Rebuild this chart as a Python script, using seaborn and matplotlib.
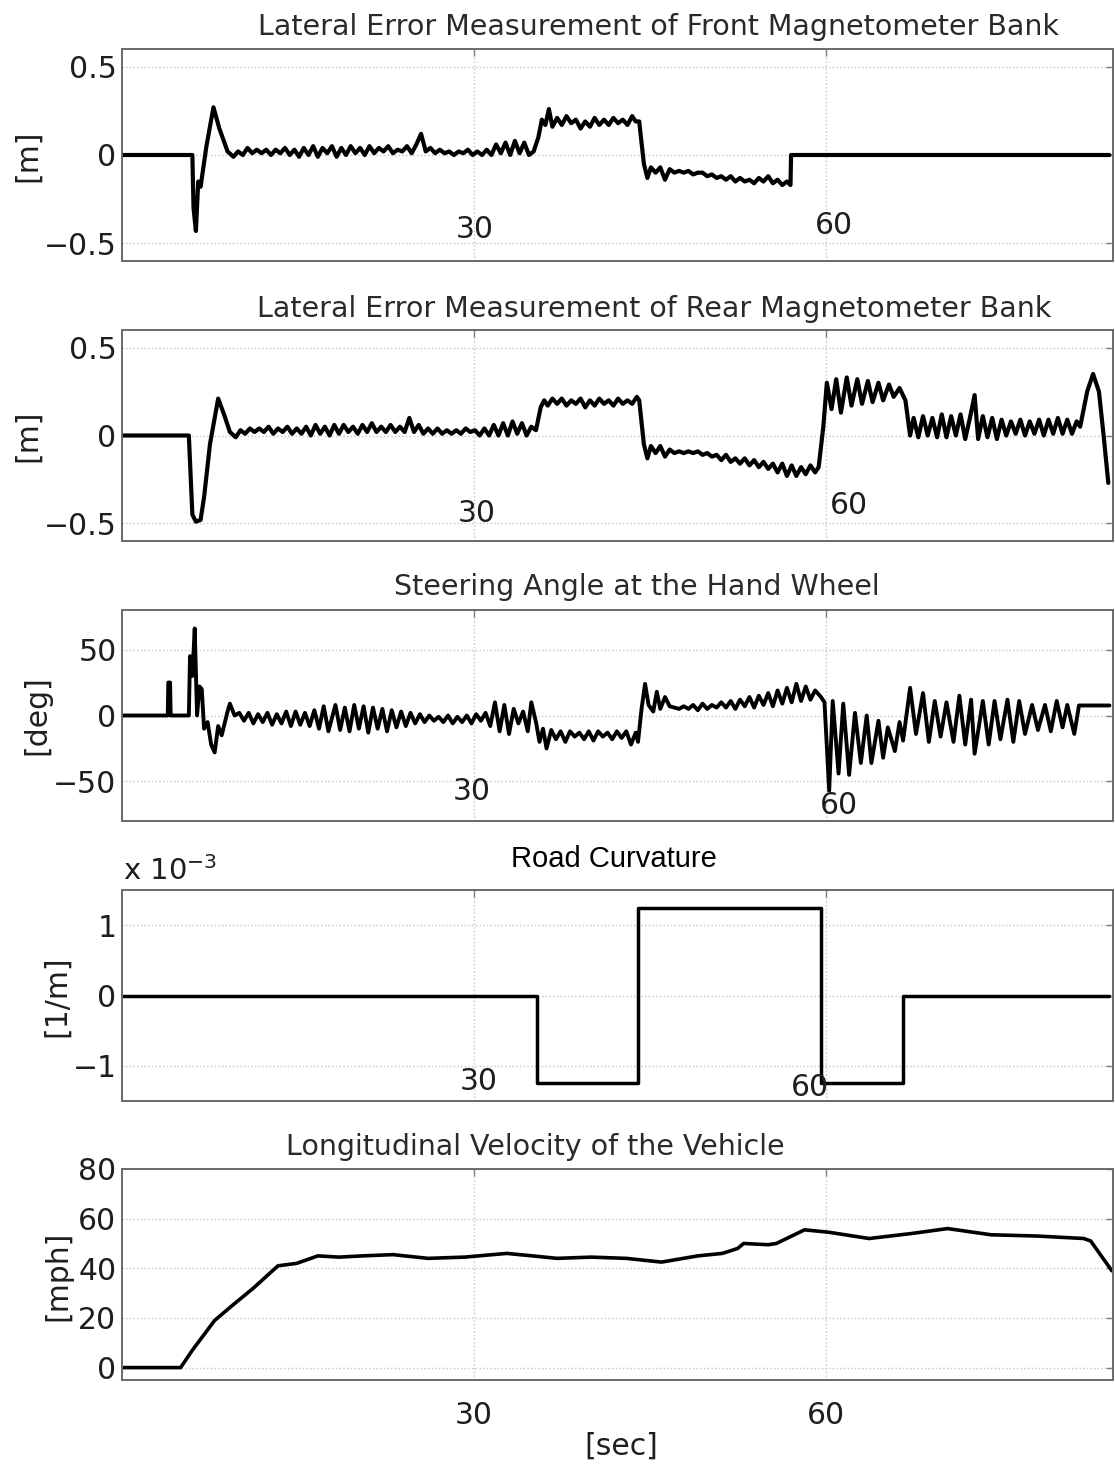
import matplotlib
matplotlib.use("Agg")
import matplotlib.pyplot as plt
import seaborn as sns

# ---------------------------------------------------------------------------
# Measured signals, (time [s], value) pairs
# ---------------------------------------------------------------------------
front_err = [  # lateral error, front magnetometer bank [m]
    (0, 0), (6.0, 0), (6.1, -0.30), (6.3, -0.43), (6.5, -0.15), (6.7, -0.18),
    (7.2, 0.05), (7.8, 0.27), (8.3, 0.15), (9.0, 0.02), (9.5, -0.01),
    (9.9, 0.02), (10.3, 0.00), (10.7, 0.04), (11.1, 0.01), (11.5, 0.03),
    (11.9, 0.01), (12.3, 0.03), (12.7, 0.00), (13.1, 0.03), (13.5, 0.01),
    (13.9, 0.04), (14.3, 0.00), (14.7, 0.03), (15.1, -0.01), (15.5, 0.04),
    (15.9, 0.00), (16.3, 0.05), (16.7, -0.01), (17.1, 0.04), (17.5, 0.01),
    (17.9, 0.05), (18.3, -0.01), (18.7, 0.04), (19.1, 0.00), (19.5, 0.05),
    (19.9, 0.01), (20.3, 0.04), (20.7, 0.00), (21.1, 0.05), (21.5, 0.01),
    (21.9, 0.04), (22.3, 0.02), (22.7, 0.05), (23.1, 0.01), (23.5, 0.03),
    (23.9, 0.02), (24.3, 0.05), (24.7, 0.01), (25.1, 0.06), (25.5, 0.12),
    (25.9, 0.02), (26.3, 0.04), (26.7, 0.01), (27.1, 0.03), (27.5, 0.01),
    (27.9, 0.02), (28.3, 0.00), (28.7, 0.02), (29.1, 0.01), (29.5, 0.03),
    (29.9, 0.00), (30.3, 0.02), (30.7, 0.00), (31.1, 0.03), (31.5, 0.00),
    (31.9, 0.06), (32.3, 0.01), (32.7, 0.07), (33.1, 0.00), (33.5, 0.08),
    (33.9, 0.01), (34.3, 0.07), (34.7, 0.00), (35.1, 0.02),
    (35.5, 0.10), (35.8, 0.20), (36.1, 0.17), (36.4, 0.26), (36.7, 0.16),
    (37.1, 0.21), (37.5, 0.17), (37.9, 0.22), (38.3, 0.18), (38.7, 0.20),
    (39.1, 0.15), (39.5, 0.19), (39.9, 0.16), (40.3, 0.21), (40.7, 0.17),
    (41.1, 0.20), (41.5, 0.17), (41.9, 0.21), (42.3, 0.18), (42.7, 0.20),
    (43.1, 0.17), (43.5, 0.22), (43.8, 0.19), (44.1, 0.19),
    (44.5, -0.05), (44.8, -0.13), (45.1, -0.07), (45.5, -0.10), (45.9, -0.07),
    (46.3, -0.14), (46.7, -0.08), (47.1, -0.10), (47.5, -0.09), (47.9, -0.10),
    (48.3, -0.09), (48.7, -0.11), (49.1, -0.10), (49.5, -0.10), (49.9, -0.12),
    (50.3, -0.11), (50.7, -0.13), (51.1, -0.12), (51.5, -0.14), (51.9, -0.12),
    (52.3, -0.15), (52.7, -0.13), (53.1, -0.15), (53.5, -0.14), (53.9, -0.16),
    (54.3, -0.13), (54.7, -0.15), (55.1, -0.12), (55.5, -0.16), (55.9, -0.14),
    (56.3, -0.17), (56.7, -0.15), (57.0, -0.17), (57.05, 0.0), (84.2, 0.0),
]

rear_err = [  # lateral error, rear magnetometer bank [m]
    (0, 0), (5.7, 0), (6.0, -0.45), (6.3, -0.49), (6.7, -0.48), (7.0, -0.35),
    (7.5, -0.05), (8.2, 0.21), (8.7, 0.12), (9.2, 0.02), (9.7, -0.01),
    (10.1, 0.03), (10.5, 0.01), (10.9, 0.04), (11.3, 0.02), (11.7, 0.04),
    (12.1, 0.02), (12.5, 0.05), (12.9, 0.01), (13.3, 0.04), (13.7, 0.02),
    (14.1, 0.05), (14.5, 0.01), (14.9, 0.04), (15.3, 0.01), (15.7, 0.05),
    (16.1, 0.00), (16.5, 0.06), (16.9, 0.01), (17.3, 0.05), (17.7, 0.00),
    (18.1, 0.06), (18.5, 0.01), (18.9, 0.06), (19.3, 0.02), (19.7, 0.05),
    (20.1, 0.01), (20.5, 0.06), (20.9, 0.02), (21.3, 0.07), (21.7, 0.02),
    (22.1, 0.05), (22.5, 0.02), (22.9, 0.06), (23.3, 0.02), (23.7, 0.05),
    (24.1, 0.02), (24.5, 0.10), (24.9, 0.02), (25.3, 0.06), (25.7, 0.01),
    (26.1, 0.04), (26.5, 0.01), (26.9, 0.04), (27.3, 0.01), (27.7, 0.03),
    (28.1, 0.01), (28.5, 0.03), (28.9, 0.01), (29.3, 0.04), (29.7, 0.02),
    (30.1, 0.03), (30.5, 0.00), (30.9, 0.04), (31.3, 0.00), (31.7, 0.06),
    (32.1, 0.00), (32.5, 0.07), (32.9, 0.00), (33.3, 0.08), (33.7, 0.01),
    (34.1, 0.07), (34.5, 0.00), (34.9, 0.05), (35.3, 0.03),
    (35.7, 0.16), (36.0, 0.20), (36.3, 0.17), (36.7, 0.21), (37.1, 0.18),
    (37.5, 0.21), (37.9, 0.17), (38.3, 0.20), (38.7, 0.18), (39.1, 0.21),
    (39.5, 0.16), (39.9, 0.20), (40.3, 0.17), (40.7, 0.21), (41.1, 0.18),
    (41.5, 0.20), (41.9, 0.17), (42.3, 0.21), (42.7, 0.18), (43.1, 0.20),
    (43.5, 0.18), (43.9, 0.22), (44.1, 0.20),
    (44.5, -0.05), (44.8, -0.13), (45.1, -0.06), (45.5, -0.10), (45.9, -0.06),
    (46.3, -0.12), (46.7, -0.08), (47.1, -0.10), (47.5, -0.09), (47.9, -0.10),
    (48.3, -0.09), (48.7, -0.10), (49.1, -0.09), (49.5, -0.11), (49.9, -0.10),
    (50.3, -0.12), (50.7, -0.11), (51.1, -0.14), (51.5, -0.11), (51.9, -0.15),
    (52.3, -0.13), (52.7, -0.16), (53.1, -0.13), (53.5, -0.17), (53.9, -0.14),
    (54.3, -0.18), (54.7, -0.15), (55.1, -0.19), (55.5, -0.16), (55.9, -0.21),
    (56.3, -0.16), (56.7, -0.23), (57.1, -0.17), (57.5, -0.23), (57.9, -0.18),
    (58.3, -0.22), (58.7, -0.17), (59.1, -0.21), (59.4, -0.18),
    (59.8, 0.05), (60.1, 0.30), (60.5, 0.15), (60.9, 0.32), (61.3, 0.13),
    (61.8, 0.33), (62.2, 0.17), (62.7, 0.32), (63.1, 0.18), (63.6, 0.31),
    (64.0, 0.19), (64.5, 0.30), (64.9, 0.20), (65.4, 0.29), (65.8, 0.22),
    (66.3, 0.27), (66.8, 0.20),
    (67.2, 0.00), (67.5, 0.10), (67.9, -0.01), (68.3, 0.11), (68.7, 0.00),
    (69.1, 0.10), (69.5, -0.01), (69.9, 0.12), (70.3, -0.01), (70.7, 0.11),
    (71.1, 0.00), (71.5, 0.12), (71.9, -0.02), (72.3, 0.10), (72.7, 0.23),
    (73.0, -0.02), (73.4, 0.11), (73.8, -0.01), (74.2, 0.10), (74.6, -0.02),
    (75.0, 0.09), (75.4, 0.00), (75.8, 0.08), (76.2, 0.01), (76.6, 0.09),
    (77.0, 0.00), (77.4, 0.08), (77.8, 0.01), (78.2, 0.09), (78.6, 0.00),
    (79.0, 0.09), (79.4, 0.01), (79.8, 0.10), (80.2, 0.01), (80.6, 0.09),
    (81.0, 0.01), (81.4, 0.08), (81.7, 0.05), (82.3, 0.25), (82.8, 0.35),
    (83.3, 0.25), (83.7, 0.00), (84.1, -0.27),
]

steer_angle = [  # hand-wheel steering angle [deg]
    (0, 0), (3.9, 0), (3.95, 25), (4.1, 25), (4.15, 0), (5.7, 0),
    (5.8, 45), (6.0, 30), (6.2, 66), (6.4, 0), (6.6, 22), (6.8, 20),
    (7.0, -10), (7.3, -5), (7.6, -22), (7.9, -28), (8.2, -8), (8.5, -15),
    (9.0, 3), (9.2, 9), (9.6, 0), (10.0, 2),
    (10.4, -4), (10.8, 2), (11.2, -6), (11.6, 1), (12.0, -5), (12.4, 2),
    (12.8, -7), (13.2, 1), (13.6, -6), (14.0, 3), (14.4, -8), (14.8, 3),
    (15.2, -7), (15.6, 2), (16.0, -8), (16.4, 4), (16.8, -10), (17.2, 7),
    (17.6, -12), (18.2, 8), (18.6, -11), (19.0, 6), (19.4, -12), (19.8, 8),
    (20.2, -10), (20.6, 7), (21.0, -13), (21.4, 6), (21.8, -10), (22.2, 5),
    (22.6, -12), (23.0, 4), (23.4, -9), (23.8, 3), (24.2, -8), (24.6, 2),
    (25.0, -6), (25.4, 1), (25.8, -5), (26.2, 0), (26.6, -4), (27.0, -1),
    (27.4, -5), (27.8, 0), (28.2, -6), (28.6, -1), (29.0, -5), (29.4, 0),
    (29.8, -6), (30.2, 1), (30.6, -4), (31.0, 2), (31.4, -8), (31.8, 10),
    (32.2, -12), (32.6, 8), (33.0, -14), (33.4, 5), (33.8, -6), (34.2, 3),
    (34.6, -12), (34.9, 10), (35.3, -5),
    (35.6, -20), (35.9, -10), (36.2, -25), (36.6, -11), (37.0, -18),
    (37.4, -12), (37.8, -20), (38.2, -12), (38.6, -16), (39.0, -13),
    (39.4, -18), (39.8, -12), (40.2, -19), (40.6, -12), (41.0, -16),
    (41.4, -13), (41.8, -18), (42.2, -12), (42.6, -17), (43.0, -12),
    (43.4, -22), (43.8, -13), (44.0, -20),
    (44.3, 5), (44.6, 24), (44.9, 8), (45.3, 3), (45.6, 18), (45.9, 5),
    (46.3, 14), (46.7, 7), (47.1, 6), (47.5, 5), (47.9, 7), (48.3, 5),
    (48.7, 8), (49.1, 4), (49.5, 9), (49.9, 5), (50.3, 8), (50.7, 6),
    (51.1, 10), (51.5, 6), (51.9, 11), (52.3, 5), (52.7, 12), (53.1, 7),
    (53.5, 14), (53.9, 6), (54.3, 15), (54.7, 8), (55.1, 17), (55.5, 7),
    (55.9, 19), (56.3, 9), (56.7, 21), (57.1, 10), (57.5, 24), (57.9, 11),
    (58.3, 22), (58.7, 12), (59.1, 19), (59.6, 14), (59.9, 10),
    (60.3, -57), (60.6, 11), (61.1, -44), (61.5, 9), (62.0, -45), (62.5, 2),
    (63.0, -36), (63.5, 0), (63.9, -36), (64.5, -4), (64.9, -32), (65.3, -9),
    (65.9, -27), (66.3, -5), (66.6, -19),
    (67.2, 21), (67.7, -14), (68.3, 17), (68.8, -20), (69.3, 11), (69.8, -16),
    (70.3, 10), (70.9, -20), (71.4, 15), (71.9, -22), (72.4, 12), (72.7, -29),
    (73.4, 11), (73.9, -22), (74.4, 11), (74.9, -18), (75.5, 12), (76.0, -20),
    (76.5, 11), (77.0, -14), (77.6, 8), (78.1, -11), (78.7, 8), (79.2, -12),
    (79.7, 11), (80.2, -9), (80.6, 8), (81.2, -14), (81.6, 7.6), (84.2, 7.6),
]

# road curvature breakpoints [x 1e-3 1/m], held until the next breakpoint
curv_t = [0, 35.4, 44.0, 59.6, 66.6, 84.2]
curv_milli = [0, -1.25, 1.25, -1.25, 0, 0]

velocity = [  # longitudinal velocity [mph]
    (0, 0), (5.0, 0), (6.0, 7), (7.9, 19), (9.4, 25), (11.2, 32), (13.3, 41),
    (14.9, 42), (16.7, 45), (18.5, 44.5), (20.5, 45), (23.1, 45.5),
    (26.1, 44), (29.2, 44.5), (32.8, 46), (35.0, 45), (37.1, 44),
    (40.0, 44.5), (43.0, 44), (46.0, 42.5), (49.1, 45), (51.2, 46),
    (52.5, 48), (53.0, 50), (55.1, 49.5), (55.8, 50), (58.2, 55.5),
    (60.3, 54.5), (63.7, 52), (67.3, 54), (70.4, 56), (74.1, 53.5),
    (78.0, 53), (82.0, 52), (82.6, 51), (83.5, 45), (84.4, 39),
]

titles = [
    "Lateral Error Measurement of Front Magnetometer Bank",
    "Lateral Error Measurement of Rear Magnetometer Bank",
    "Steering Angle at the Hand Wheel",
    "Road Curvature",
    "Longitudinal Velocity of the Vehicle",
]
units = ["[m]", "[m]", "[deg]", "[1/m]", "[mph]"]
x_ticks = [30, 60]
y_ticks = [[-0.5, 0, 0.5], [-0.5, 0, 0.5], [-50, 0, 50], [-1, 0, 1],
           [0, 20, 40, 60, 80]]
y_ticklabels = [["\u22120.5", "0", "0.5"], ["\u22120.5", "0", "0.5"],
                ["\u221250", "0", "50"], ["\u22121", "0", "1"],
                ["0", "20", "40", "60", "80"]]
y_limits = [(-0.6, 0.6), (-0.6, 0.6), (-80, 80), (-1.5, 1.5), (-5, 80)]

# ---------------------------------------------------------------------------
sns.set_theme(style="white")
plt.rcParams["font.family"] = ["DejaVu Sans"]
plt.rcParams["axes.unicode_minus"] = True

W, H = 1115, 1467
fig = plt.figure(figsize=(W / 100, H / 100), dpi=100)


def fx(px):
    return px / W


def fy(py):
    return 1 - py / H


LEFT, RIGHT = 122, 1113
frames = [(49, 261), (330, 541), (610, 821), (890, 1101), (1169, 1380)]
axes = []
for top, bot in frames:
    ax = fig.add_axes([fx(LEFT), fy(bot), (RIGHT - LEFT) / W, (bot - top) / H])
    axes.append(ax)

line_kw = dict(color="black", estimator=None, sort=False)

t, v = zip(*front_err)
sns.lineplot(x=list(t), y=list(v), ax=axes[0], lw=3.0, **line_kw)
t, v = zip(*rear_err)
sns.lineplot(x=list(t), y=list(v), ax=axes[1], lw=3.0, **line_kw)
t, v = zip(*steer_angle)
sns.lineplot(x=list(t), y=list(v), ax=axes[2], lw=2.8, **line_kw)
sns.lineplot(x=curv_t, y=curv_milli, ax=axes[3], lw=2.5,
             drawstyle="steps-post", **line_kw)
t, v = zip(*velocity)
sns.lineplot(x=list(t), y=list(v), ax=axes[4], lw=2.6, **line_kw)

tick_color = "#1e1e1e"
for i, ax in enumerate(axes):
    ax.set_xlim(0, 84.5)
    ax.set_ylim(*y_limits[i])
    ax.set_xticks(x_ticks)
    ax.set_yticks(y_ticks[i])
    ax.set_yticklabels(y_ticklabels[i])
    ax.grid(True, linestyle=":", color="#c4c4c4", linewidth=1.0)
    ax.tick_params(direction="in", length=5, width=1, color="#808080",
                   top=True, right=True, labelsize=21.5, pad=4,
                   labelcolor=tick_color)
    for s in ax.spines.values():
        s.set_color("#6a6a6a")
        s.set_linewidth(1.4)
    ax.set_xlabel("")
    ax.set_ylabel("")
    if i < 4:
        ax.set_xticklabels([])
    else:
        ax.set_xticklabels([str(x) for x in x_ticks])
        ax.tick_params(axis="x", pad=15)

# x tick numbers that sit inside the upper panels
inner_ticks = [
    [(475, 230), (834, 225)],
    [(477, 514), (849, 505)],
    [(472, 792), (839, 805)],
    [(479, 1081), (810, 1087)],
]
for pos in inner_ticks:
    for (px, py), lab in zip(pos, x_ticks):
        fig.text(fx(px), fy(py), str(lab), ha="center", va="center",
                 fontsize=21.5, color=tick_color)

# titles
title_pos = [(658, 35), (654, 317), (637, 595), (614, 867), (535, 1155)]
for i, (txt, (px, py)) in enumerate(zip(titles, title_pos)):
    if i == 3:
        fig.text(fx(px), fy(py), txt, ha="center", va="baseline",
                 fontsize=21, color="black", family=["Liberation Sans"])
    else:
        fig.text(fx(px), fy(py), txt, ha="center", va="baseline",
                 fontsize=20.5, color="#2a2a2a")

# unit labels on the y axes
unit_pos = [(28, 156), (28, 436), (37, 715), (57, 996), (58, 1276)]
for txt, (px, py) in zip(units, unit_pos):
    fig.text(fx(px), fy(py), txt, rotation=90, ha="center", va="center",
             fontsize=21.5, color=tick_color)

# exponent for the curvature axis
fig.text(fx(123), fy(880), r"x 10$^{-3}$", ha="left", va="baseline",
         fontsize=21, color=tick_color)

fig.text(fx(621), fy(1446), "[sec]", ha="center", va="center",
         fontsize=21.5, color=tick_color)

fig.savefig("out.png", dpi=100)
